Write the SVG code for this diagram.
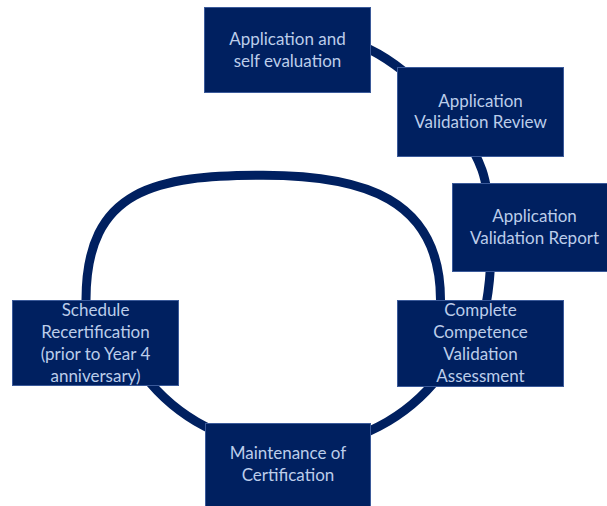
<svg xmlns="http://www.w3.org/2000/svg" width="607" height="506" viewBox="0 0 607 506">
<style>
.line{fill:none;stroke:#002060;stroke-width:9}
.box{fill:#002060;stroke:#3b5a9a;stroke-width:1}
.t{font-family:Lato,"Liberation Sans",sans-serif;font-size:17px;fill:#bccdea;text-anchor:middle}
</style>
<rect width="607" height="506" fill="#ffffff"/>
<g id="connectors">
<path class="line" d="M362,46 C402,62 464,120 482,170 C489,190 496,250 486,305"/>
<path class="line" d="M440.2,375 A187 187 0 0 1 143.8,375"/>
<path class="line" d="M86,320 L86,300 C86,188 157,175.3 263.3,175.3 C362,175.3 440.5,198 440.5,300 L440.5,320"/>
</g>
<g id="n1">
<rect class="box" x="204.5" y="7.5" width="166" height="85"/>
<text class="t" x="287.5" y="45">Application and</text>
<text class="t" x="287.5" y="66.5">self evaluation</text>
</g>
<g id="n2">
<rect class="box" x="397.5" y="67.5" width="166" height="89"/>
<text class="t" x="480.5" y="106.5">Application</text>
<text class="t" x="480.5" y="128">Validation Review</text>
</g>
<g id="n3">
<rect class="box" x="452.5" y="183.5" width="160" height="88"/>
<text class="t" x="534.5" y="222">Application</text>
<text class="t" x="534.5" y="244">Validation Report</text>
</g>
<g id="n4">
<rect class="box" x="397.5" y="300.5" width="166" height="86"/>
<text class="t" x="480.5" y="315.5">Complete</text>
<text class="t" x="480.5" y="337.5">Competence</text>
<text class="t" x="480.5" y="359.5">Validation</text>
<text class="t" x="480.5" y="381.5">Assessment</text>
</g>
<g id="n5">
<rect class="box" x="205.5" y="423.5" width="165" height="90"/>
<text class="t" x="288" y="459">Maintenance of</text>
<text class="t" x="288" y="481">Certification</text>
</g>
<g id="n6">
<rect class="box" x="12.5" y="300.5" width="166" height="85"/>
<text class="t" x="95.5" y="315.5">Schedule</text>
<text class="t" x="95.5" y="337.5">Recertification</text>
<text class="t" x="95.5" y="359.5">(prior to Year 4</text>
<text class="t" x="95.5" y="381.5">anniversary)</text>
</g>
</svg>
